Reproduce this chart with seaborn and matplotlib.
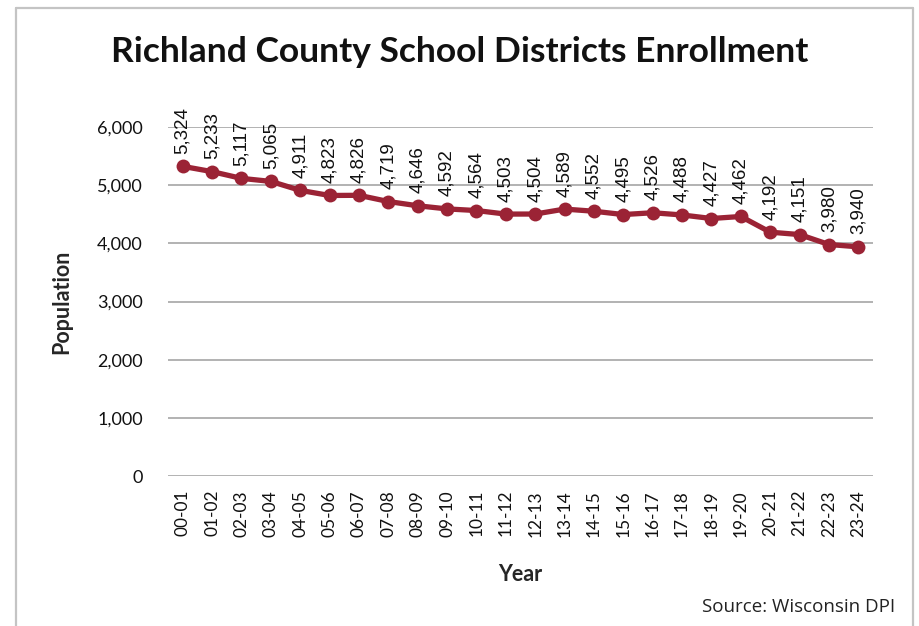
import matplotlib
matplotlib.use("Agg")
import matplotlib.pyplot as plt
from matplotlib.lines import Line2D
from matplotlib.ticker import FuncFormatter
import seaborn as sns
import pandas as pd

years = ["00-01", "01-02", "02-03", "03-04", "04-05", "05-06", "06-07", "07-08",
         "08-09", "09-10", "10-11", "11-12", "12-13", "13-14", "14-15", "15-16",
         "16-17", "17-18", "18-19", "19-20", "20-21", "21-22", "22-23", "23-24"]
enrollment = [5324, 5233, 5117, 5065, 4911, 4823, 4826, 4719, 4646, 4592, 4564, 4503,
              4504, 4589, 4552, 4495, 4526, 4488, 4427, 4462, 4192, 4151, 3980, 3940]
y_ticks = [0, 1000, 2000, 3000, 4000, 5000, 6000]

LINE_COLOR = "#9b2335"
GRID_COLOR = "#a6a6a6"

sns.set_theme(style="white")
plt.rcParams["font.family"] = ["Lato", "DejaVu Sans"]

df = pd.DataFrame({"Year": years, "Population": enrollment})

fig = plt.figure(figsize=(9.19, 6.26), dpi=100)
ax = fig.add_axes([0.1828, 0.2396, 0.7672, 0.5575])

sns.lineplot(data=df, x="Year", y="Population", ax=ax, color=LINE_COLOR,
             linewidth=3.8, marker="o", markersize=10, markeredgewidth=0,
             sort=False, zorder=3)

ax.set_ylim(0, 6000)
ax.set_xlim(-0.5, len(years) - 0.5)
ax.set_yticks(y_ticks)
ax.yaxis.set_major_formatter(FuncFormatter(lambda v, _: f"{int(v):,}"))
ax.grid(axis="y", color=GRID_COLOR, linewidth=1.2)
ax.grid(axis="x", visible=False)
for side in ax.spines.values():
    side.set_visible(False)
ax.tick_params(axis="y", length=0, pad=18, labelsize=13, labelcolor="#111111")
ax.tick_params(axis="x", length=0, pad=10, labelsize=12.5, labelcolor="#111111",
               labelrotation=90)

# value labels above each point
for i, v in enumerate(enrollment):
    ax.annotate(f"{v:,}", xy=(i, v), xytext=(0, 9), textcoords="offset points",
                rotation=90, ha="center", va="bottom", fontsize=13.5,
                family=["Liberation Sans", "DejaVu Sans"], color="#111111",
                annotation_clip=False)

ax.set_xlabel("Year", fontsize=15.5, fontweight="bold", labelpad=20)
ax.set_ylabel("Population", fontsize=15.5, fontweight="bold", labelpad=18)

fig.text(0.5, 0.917, "Richland County School Districts Enrollment",
         ha="center", va="center", fontsize=25.5, fontweight="bold", color="#111111")
fig.text(0.974, 0.031, "Source: Wisconsin DPI", ha="right", va="center",
         fontsize=13.5, family=["Open Sans", "DejaVu Sans"], color="#222222")

# panel outline
frame_kw = dict(color="#c4c4c4", linewidth=1.6, transform=fig.transFigure)
fig.add_artist(Line2D([16 / 919, 16 / 919], [0, 1 - 8 / 626], **frame_kw))
fig.add_artist(Line2D([16 / 919, 913 / 919], [1 - 8 / 626, 1 - 8 / 626], **frame_kw))
fig.add_artist(Line2D([913 / 919, 913 / 919], [0, 1 - 8 / 626], **frame_kw))

fig.savefig("out.png", dpi=100)
